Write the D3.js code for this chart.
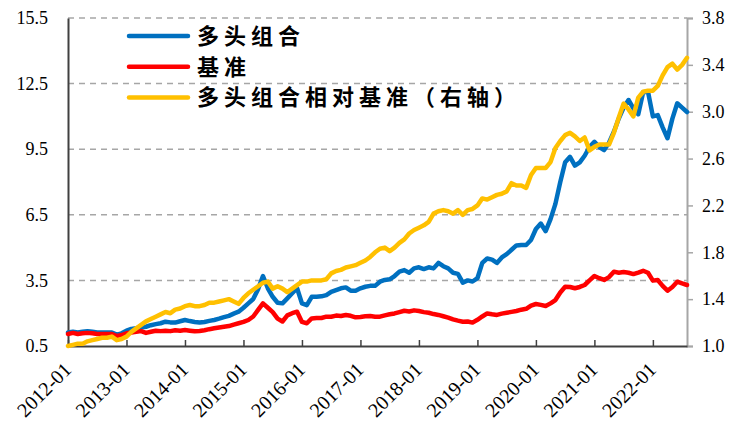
<!DOCTYPE html>
<html><head><meta charset="utf-8">
<script src="https://cdn.jsdelivr.net/npm/d3@7"></script>
<style>body{margin:0;background:#fff}svg{display:block}
.ax text{font-family:"Liberation Serif","Times New Roman",serif !important;}</style>
</head><body><svg id="c" width="735" height="432"></svg>
<script>
const startYear = 2012, nMonths = 128;
const months = d3.range(nMonths).map(i => `${startYear + Math.floor(i/12)}-${String(i%12+1).padStart(2,"0")}`);
const xTickLabels = ["2012-01","2013-01","2014-01","2015-01","2016-01","2017-01","2018-01","2019-01","2020-01","2021-01","2022-01"];
const leftTicks = [0.5, 3.5, 6.5, 9.5, 12.5, 15.5];
const rightTicks = [1.0, 1.4, 1.8, 2.2, 2.6, 3.0, 3.4, 3.8];
const seriesNames = ["多头组合", "基准", "多头组合相对基准（右轴）"];
const longPortfolio = [
1.12,1.15,1.12,1.15,1.18,1.15,1.12,1.12,1.12,1.12,
1.02,1.08,1.2,1.28,1.31,1.35,1.38,1.45,1.5,1.54,
1.61,1.58,1.57,1.63,1.69,1.64,1.6,1.57,1.6,1.65,
1.69,1.75,1.82,1.88,1.98,2.07,2.25,2.45,2.65,3.1,
3.7,3.14,2.75,2.48,2.45,2.68,2.91,3.14,2.45,2.37,
2.75,2.75,2.77,2.83,2.98,3.06,3.14,3.18,3.03,3.03,
3.14,3.21,3.25,3.25,3.44,3.52,3.55,3.7,3.9,3.97,
3.85,4.05,4.1,4.02,4.1,4.05,4.3,4.15,4.05,3.85,
3.8,3.4,3.5,3.45,3.6,4.3,4.5,4.45,4.3,4.55,
4.7,4.9,5.1,5.12,5.12,5.35,5.85,6.1,5.75,6.3,
7.0,8.0,8.9,9.15,8.75,8.9,9.2,9.6,9.84,9.6,
9.46,9.8,10.3,10.9,11.4,11.75,11.37,11.1,12.1,12.13,
11.0,11.06,10.5,10.0,10.9,11.6,11.4,11.2];
const benchmark = [
1.05,1.1,1.05,1.08,1.1,1.08,1.05,1.05,1.05,1.05,
0.95,1.0,1.08,1.12,1.15,1.18,1.1,1.15,1.2,1.18,
1.2,1.18,1.22,1.2,1.23,1.2,1.17,1.19,1.22,1.27,
1.31,1.35,1.38,1.41,1.48,1.54,1.6,1.69,1.85,2.15,
2.45,2.25,2.05,1.75,1.62,1.9,2.0,2.07,1.6,1.54,
1.76,1.78,1.78,1.84,1.84,1.89,1.87,1.92,1.88,1.81,
1.83,1.86,1.87,1.84,1.84,1.9,1.95,1.99,2.05,2.11,
2.08,2.13,2.1,2.05,2.02,1.96,1.92,1.86,1.8,1.72,
1.66,1.61,1.62,1.57,1.7,1.85,1.99,1.95,1.92,1.98,
2.02,2.06,2.1,2.16,2.2,2.35,2.42,2.38,2.33,2.45,
2.6,2.95,3.21,3.2,3.14,3.2,3.29,3.5,3.7,3.6,
3.52,3.65,3.9,3.85,3.88,3.85,3.79,3.86,3.94,3.85,
3.49,3.52,3.25,3.03,3.2,3.44,3.36,3.29];
const relative = [
1.0,1.01,1.02,1.02,1.04,1.05,1.06,1.07,1.07,1.08,
1.05,1.06,1.08,1.12,1.15,1.18,1.21,1.23,1.25,1.27,
1.29,1.28,1.31,1.32,1.34,1.35,1.34,1.34,1.35,1.37,
1.37,1.38,1.39,1.40,1.38,1.36,1.41,1.45,1.48,1.51,
1.54,1.55,1.49,1.51,1.49,1.46,1.49,1.52,1.55,1.55,
1.56,1.56,1.56,1.57,1.62,1.64,1.65,1.67,1.68,1.69,
1.71,1.73,1.76,1.8,1.83,1.84,1.81,1.84,1.88,1.91,
1.96,1.99,2.01,2.03,2.06,2.13,2.15,2.16,2.15,2.13,
2.16,2.12,2.16,2.17,2.2,2.26,2.25,2.27,2.29,2.3,
2.32,2.39,2.37,2.37,2.35,2.46,2.52,2.52,2.52,2.57,
2.69,2.75,2.8,2.82,2.79,2.75,2.78,2.67,2.7,2.72,
2.72,2.72,2.82,2.95,3.07,3.02,2.96,3.12,3.17,3.18,
3.18,3.22,3.31,3.38,3.41,3.36,3.4,3.46];
const colors = ["#0070C0", "#FF0000", "#FFC000"];

const L = 68, R = 687, T = 18, B = 346;
const svg = d3.select("#c");
const x = d3.scalePoint().domain(months).range([L, R]);
const yL = d3.scaleLinear().domain([0.5, 15.5]).range([B, T]);
const yR = d3.scaleLinear().domain([1.0, 3.8]).range([B, T]);

// gridlines
svg.append("g").selectAll("line").data(leftTicks.filter(d => d > 0.5)).join("line")
  .attr("x1", L).attr("x2", R).attr("y1", d => yL(d)).attr("y2", d => yL(d))
  .attr("stroke", "#a6a6a6").attr("stroke-width", 1.5).attr("stroke-dasharray", "6,5");

// left axis
const gl = svg.append("g").attr("class", "ax").attr("transform", `translate(${L},0)`)
  .call(d3.axisLeft(yL).tickValues(leftTicks).tickFormat(d3.format(".1f")).tickSize(0).tickPadding(20));
gl.select(".domain").attr("stroke", "#404040").attr("stroke-width", 2);
gl.selectAll("text").attr("font-size", 18).attr("fill", "#000");

// right axis
const gr = svg.append("g").attr("class", "ax").attr("transform", `translate(${R},0)`)
  .call(d3.axisRight(yR).tickValues(rightTicks).tickFormat(d3.format(".1f")).tickSize(6).tickPadding(9));
gr.select(".domain").attr("stroke", "#a6a6a6").attr("stroke-width", 2);
gr.selectAll(".tick line").attr("stroke", "#a6a6a6").attr("stroke-width", 1.5);
gr.selectAll("text").attr("font-size", 18).attr("fill", "#000");

// bottom axis
const gb = svg.append("g").attr("class", "ax").attr("transform", `translate(0,${B})`)
  .call(d3.axisBottom(x).tickValues(xTickLabels).tickSize(-6).tickSizeOuter(0).tickFormat(d => d));
gb.select(".domain").attr("stroke", "#404040").attr("stroke-width", 2);
gb.selectAll(".tick line").attr("stroke", "#404040").attr("stroke-width", 1.5);
gb.selectAll("text").attr("font-size", 20).attr("fill", "#000")
  .attr("text-anchor", "end").attr("dy", 0).attr("y", 0)
  .attr("transform", "translate(4,25) rotate(-45)");

// lines
const lineL = d3.line().x((d, i) => x(months[i])).y(d => yL(d));
const lineR = d3.line().x((d, i) => x(months[i])).y(d => yR(d));
const paths = [[longPortfolio, lineL], [benchmark, lineL], [relative, lineR]];
paths.forEach(([data, gen], k) => {
  svg.append("path").datum(data).attr("d", gen).attr("fill", "none")
    .attr("stroke", colors[k]).attr("stroke-width", 4.5)
    .attr("stroke-linejoin", "round").attr("stroke-linecap", "round");
});

// legend
const lg = svg.append("g");
seriesNames.forEach((name, k) => {
  const ly = 36 + k * 30.7;
  lg.append("line").attr("x1", 129).attr("x2", 188).attr("y1", ly).attr("y2", ly)
    .attr("stroke", colors[k]).attr("stroke-width", 4.5).attr("stroke-linecap", "round");
  lg.append("text").attr("x", 197).attr("y", ly).attr("dy", "0.36em")
    .attr("font-family", "'Noto Sans CJK SC',sans-serif").attr("font-weight", 700)
    .attr("font-size", 22).attr("letter-spacing", "5px").attr("fill", "#000").text(name);
});
</script></body></html>
